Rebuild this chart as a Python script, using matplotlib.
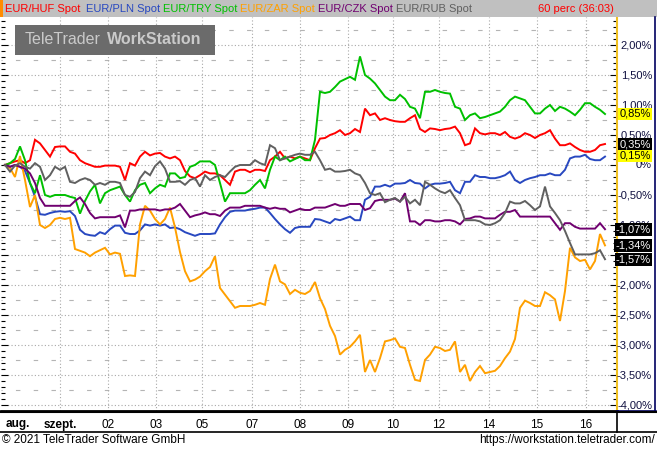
import matplotlib
matplotlib.use("Agg")
import matplotlib.pyplot as plt
from matplotlib.patches import Rectangle
from matplotlib.ticker import MultipleLocator

# hourly-ish samples, percent change since start
huf = [0.0, 0.03, 0.06, 0.08, 0.03, 0.08, 0.42, 0.36, 0.25, 0.14, 0.3, 0.31, 0.31, 0.22, 0.19, 0.08,
       0.03, 0.0, -0.03, -0.03, -0.01, -0.01, -0.01, -0.03, -0.25, 0.03, -0.01, 0.14, 0.22, 0.16, 0.19,
       0.2, 0.14, 0.11, 0.14, 0.08, -0.1, -0.19, -0.22, -0.17, -0.11, -0.14, -0.14, -0.17, -0.25, -0.33,
       -0.11, -0.08, -0.08, -0.12, -0.08, -0.08, -0.1, 0.08, 0.14, 0.22, 0.11, 0.14, 0.11, 0.14, 0.11,
       0.08, 0.28, 0.44, 0.45, 0.5, 0.53, 0.58, 0.5, 0.53, 0.6, 0.55, 0.94, 0.83, 0.86, 0.75, 0.78, 0.75,
       0.73, 0.72, 0.72, 0.78, 0.83, 0.6, 0.55, 0.61, 0.6, 0.58, 0.6, 0.61, 0.64, 0.53, 0.33, 0.36, 0.61,
       0.53, 0.51, 0.53, 0.53, 0.5, 0.55, 0.47, 0.44, 0.47, 0.53, 0.5, 0.45, 0.5, 0.53, 0.58, 0.44, 0.33,
       0.33, 0.36, 0.3, 0.25, 0.22, 0.22, 0.25, 0.33, 0.35]
pln = [0.0, -0.03, 0.0, -0.03, -0.1, -0.3, -0.53, -0.82, -0.83, -0.8, -0.78, -0.77, -0.78, -0.77,
       -0.85, -1.08, -1.15, -1.17, -1.18, -1.12, -1.15, -1.07, -1.01, -1.01, -1.13, -1.15, -1.15, -1.09,
       -0.99, -1.01, -0.99, -1.01, -0.99, -1.05, -1.04, -1.07, -1.12, -1.15, -1.18, -1.15, -1.15, -1.15,
       -1.14, -0.99, -0.87, -0.78, -0.76, -0.76, -0.76, -0.74, -0.73, -0.71, -0.71, -0.8, -0.9, -0.99,
       -1.07, -1.13, -1.05, -1.03, -1.03, -1.03, -0.9, -0.91, -0.94, -0.97, -0.9, -0.92, -0.89, -0.86,
       -0.92, -0.92, -0.58, -0.53, -0.36, -0.36, -0.33, -0.36, -0.31, -0.31, -0.3, -0.25, -0.3, -0.31,
       -0.39, -0.33, -0.31, -0.31, -0.3, -0.28, -0.42, -0.47, -0.28, -0.28, -0.17, -0.2, -0.2, -0.22,
       -0.22, -0.2, -0.17, -0.11, -0.25, -0.3, -0.25, -0.22, -0.2, -0.17, -0.17, -0.14, -0.17, -0.17,
       -0.08, 0.11, 0.14, 0.14, 0.17, 0.1, 0.08, 0.08, 0.14]
tryl = [0.0, 0.03, 0.1, 0.31, 0.08, -0.3, -0.47, -0.17, -0.5, -0.53, -0.5, -0.5, -0.5, -0.53, -0.55,
        -0.81, -0.6, -0.44, -0.33, -0.64, -0.47, -0.42, -0.39, -0.36, -0.5, -0.61, -0.42, -0.33, -0.3,
        -0.47, -0.39, -0.33, -0.36, -0.14, -0.14, -0.22, -0.2, -0.03, 0.0, 0.06, 0.06, 0.06, 0.0, -0.3,
        -0.61, -0.47, -0.47, -0.47, -0.47, -0.42, -0.33, -0.25, -0.39, -0.08, 0.14, 0.08, 0.14, 0.06,
        0.1, 0.14, 0.08, 0.08, 0.42, 1.22, 1.2, 1.22, 1.3, 1.39, 1.43, 1.47, 1.42, 1.81, 1.5, 1.44, 1.36,
        1.25, 1.14, 1.08, 1.08, 1.17, 1.1, 0.97, 0.94, 0.78, 1.22, 1.22, 1.25, 1.22, 1.2, 1.19, 0.97,
        0.94, 0.75, 0.83, 0.86, 0.78, 0.8, 0.83, 0.86, 0.89, 0.97, 1.08, 1.14, 1.11, 1.08, 0.97, 0.86,
        0.86, 0.94, 1.0, 0.9, 0.97, 0.94, 0.89, 0.83, 0.92, 1.03, 1.03, 0.97, 0.92, 0.85]
zar = [0.0, -0.05, -0.2, 0.15, -0.25, -0.7, -0.5, -1.0, -1.05, -1.0, -0.9, -0.88, -0.9, -0.88, -1.4,
       -1.43, -1.46, -1.52, -1.46, -1.42, -1.38, -1.49, -1.46, -1.48, -1.85, -1.84, -1.85, -0.99, -0.68,
       -0.76, -0.9, -0.99, -0.9, -0.71, -1.04, -1.45, -1.77, -1.94, -1.91, -1.86, -1.77, -1.7, -1.52,
       -2.05, -2.16, -2.27, -2.38, -2.35, -2.35, -2.35, -2.33, -2.3, -2.33, -1.9, -1.66, -1.94, -1.99,
       -2.15, -2.08, -2.13, -2.15, -2.1, -1.95, -2.22, -2.4, -2.68, -2.85, -3.16, -3.08, -3.03, -2.94,
       -2.83, -3.45, -3.25, -3.45, -3.22, -2.94, -2.92, -2.89, -3.03, -3.05, -3.33, -3.58, -3.6, -3.25,
       -3.16, -3.03, -3.05, -3.1, -3.08, -2.94, -3.45, -3.33, -3.6, -3.45, -3.35, -3.47, -3.45, -3.43,
       -3.35, -3.22, -3.11, -2.9, -2.38, -2.26, -2.3, -2.35, -2.35, -2.12, -2.17, -2.24, -2.6, -2.1,
       -1.38, -1.54, -1.6, -1.58, -1.74, -1.6, -1.15, -1.34]
czk = [0.0, -0.03, 0.0, -0.03, -0.06, -0.14, -0.3, -0.55, -0.68, -0.68, -0.68, -0.68, -0.68, -0.68,
       -0.6, -0.54, -0.65, -0.8, -0.89, -0.87, -0.87, -0.87, -0.87, -0.84, -1.04, -0.76, -0.76, -0.74,
       -0.74, -0.74, -0.74, -0.76, -0.74, -0.74, -0.71, -0.65, -0.76, -0.87, -0.84, -0.82, -0.79, -0.82,
       -0.82, -0.85, -0.76, -0.71, -0.71, -0.71, -0.68, -0.68, -0.68, -0.68, -0.71, -0.73, -0.71, -0.73,
       -0.73, -0.79, -0.76, -0.73, -0.75, -0.75, -0.71, -0.71, -0.71, -0.68, -0.65, -0.68, -0.68, -0.65,
       -0.65, -0.65, -0.75, -0.72, -0.6, -0.58, -0.58, -0.58, -0.56, -0.61, -0.47, -0.94, -0.94, -1.0,
       -0.92, -0.92, -0.94, -0.94, -0.92, -0.92, -0.94, -0.99, -0.9, -0.89, -0.86, -0.86, -0.89, -0.89,
       -0.89, -0.83, -0.78, -0.78, -0.75, -0.86, -0.86, -0.86, -0.86, -0.86, -0.86, -0.86, -0.97, -1.08,
       -0.97, -0.97, -1.03, -1.06, -1.06, -1.06, -1.06, -0.97, -1.07]
rub = [0.0, -0.11, -0.01, 0.03, -0.03, -0.06, 0.03, -0.03, -0.25, -0.17, -0.03, -0.08, -0.03, -0.28,
       -0.3, -0.25, -0.22, -0.25, -0.33, -0.3, -0.33, -0.28, -0.28, -0.3, -0.5, -0.53, -0.45, -0.22,
       -0.11, -0.17, -0.02, 0.06, -0.06, -0.28, -0.28, -0.27, -0.33, -0.25, -0.22, -0.36, -0.17, -0.25,
       -0.2, -0.17, -0.2, -0.11, -0.03, 0.0, 0.0, 0.0, 0.08, 0.03, 0.0, 0.33, 0.28, 0.08, 0.11, 0.14,
       0.17, 0.19, 0.17, 0.17, 0.22, 0.08, -0.08, -0.06, -0.11, -0.11, -0.1, -0.08, -0.14, -0.17, -0.3,
       -0.47, -0.5, -0.47, -0.62, -0.58, -0.55, -0.61, -0.53, -0.64, -0.58, -0.67, -0.28, -0.33, -0.39,
       -0.44, -0.47, -0.42, -0.55, -0.67, -0.92, -0.92, -0.92, -0.94, -0.99, -1.0, -0.97, -0.92, -0.8,
       -0.61, -0.64, -0.64, -0.6, -0.67, -0.75, -0.69, -0.36, -0.69, -0.8, -0.92, -1.1, -1.3, -1.49,
       -1.49, -1.49, -1.49, -1.47, -1.42, -1.57]

names = ["EUR/HUF Spot", "EUR/PLN Spot", "EUR/TRY Spot", "EUR/ZAR Spot", "EUR/CZK Spot", "EUR/RUB Spot"]
colors = ["#ff0000", "#2848c0", "#00c000", "#ffa000", "#700070", "#606060"]
series = [huf, pln, tryl, zar, czk, rub]

# date labels (positions in sample index)
date_ticks = [11, 20.6, 30.2, 39.4, 49.4, 59, 68.6, 77.6, 86.8, 96.8, 106.4, 116.2]
date_labels = ["szept.", "02", "03", "05", "07", "08", "09", "10", "12", "14", "15", "16"]

# right scale labels (the -1,50% one sits fully under a last-value box)
scale_values = [2.0, 1.5, 1.0, 0.5, 0.0, -0.5, -1.0, -2.0, -2.5, -3.0, -3.5, -4.0]

# last-value boxes: value, text, background, text colour
last_boxes = [(0.85, "0,85%", "#ffff00", "black"), (0.35, "0,35%", "black", "white"),
              (0.15, "0,15%", "#ffff00", "black"), (-1.07, "-1,07%", "black", "white"),
              (-1.34, "-1,34%", "black", "white"), (-1.57, "-1,57%", "black", "white")]

W, H = 657, 449
plt.rcParams['font.family'] = ['Liberation Sans', 'DejaVu Sans']
fig = plt.figure(figsize=(W / 100, H / 100), dpi=100)
fig.patch.set_facecolor("white")


def fx(px):
    return px / W


def fy(py):
    return 1 - py / H


# header bar
fig.patches.append(Rectangle((0, fy(17)), 1, 17 / H, transform=fig.transFigure,
                             facecolor="#c0c0c0", edgecolor="none", zorder=0))
fig.patches.append(Rectangle((0, fy(17)), fx(3), 17 / H, transform=fig.transFigure,
                             facecolor="#ff8c00", edgecolor="none", zorder=1))
name_x = [5, 86, 163, 240, 318, 396]
for nx, n, c in zip(name_x, names, colors):
    fig.text(fx(nx), fy(8.5), n, color=c, fontsize=8, va="center", ha="left")
fig.text(fx(614), fy(8.5), "60 perc (36:03)", color="#ff0000", fontsize=8, va="center", ha="right")

# main axes
left, right, top, bottom = 1, 617, 17, 411
ax = fig.add_axes([fx(left), fy(bottom), fx(right - left), (bottom - top) / H])
x = list(range(len(huf)))
for s, c in zip(series, colors):
    ax.plot(x, s, color=c, lw=1.4, solid_joinstyle="miter")

ax.set_xlim((left - 5) / 5, (right - 5) / 5)
ax.set_ylim((165 - bottom) / 60, (165 - top) / 60)

ax.yaxis.set_major_locator(MultipleLocator(0.5))
ax.yaxis.set_minor_locator(MultipleLocator(0.1))
ax.tick_params(axis="y", which="both", direction="in", left=True, right=True,
               labelleft=False, labelright=False, color="black")
ax.tick_params(axis="y", which="major", length=5, width=0.8)
ax.tick_params(axis="y", which="minor", length=3, width=0.8)

ax.set_xticks(date_ticks)
ax.set_xticklabels(date_labels)
ax.tick_params(axis="x", length=0, pad=6, labelsize=8.5)
for lbl in ax.get_xticklabels():
    if lbl.get_text() == "szept.":
        lbl.set_fontweight("bold")
fig.text(fx(18), fy(423.5), "aug.", ha="center", va="center", fontsize=8.5, fontweight="bold")

ax.grid(axis="x", color="#a8a8a8", linestyle=(0, (1, 2)), lw=0.8)
ax.grid(axis="y", which="major", color="#a8a8a8", linestyle=(0, (1, 2)), lw=0.8)
for v in [2.25, 1.75, 1.25, 0.75, 0.25, -0.25, -0.75, -1.25, -1.75, -2.25, -2.75, -3.25, -3.75]:
    ax.axhline(v, color="#b4b4b4", linestyle=(3, (4, 12)), lw=0.8, zorder=0)
ax.set_axisbelow(True)

for sp in ["top", "left"]:
    ax.spines[sp].set_visible(False)
ax.spines["right"].set_color("#f0c020")
ax.spines["right"].set_linewidth(1.5)
ax.spines["bottom"].set_linewidth(2)

# right value scale
for v in scale_values:
    t = "0%" if v == 0 else ("%.2f%%" % v).replace(".", ",")
    fig.text(fx(652), fy(165 - v * 60), t, fontsize=8, color="#101040", ha="right", va="center")
for v, t, bg, tc in last_boxes:
    fig.text(fx(651), fy(165 - v * 60), t, fontsize=8, color=tc, ha="right", va="center",
             bbox=dict(boxstyle="square,pad=0.12", facecolor=bg, edgecolor="none"))

# watermark
fig.patches.append(Rectangle((fx(15), fy(55)), fx(200), 30 / H, transform=fig.transFigure,
                             facecolor="#6b6b6b", edgecolor="none", zorder=5))
fig.text(fx(25), fy(40), "TeleTrader", color="#cacaca", fontsize=11.5, va="center", zorder=6)
fig.text(fx(107), fy(40), "WorkStation", color="#cacaca", fontsize=11.5, fontweight="bold",
         va="center", zorder=6)

# frame lines
fig.add_artist(plt.Line2D([fx(655), fx(655)], [fy(17), fy(411)], color="#000060", lw=1.2))
fig.add_artist(plt.Line2D([fx(617), fx(656)], [fy(411), fy(411)], color="#000060", lw=1.2))
fig.add_artist(plt.Line2D([0, 1], [fy(432), fy(432)], color="black", lw=1.2))
fig.add_artist(plt.Line2D([fx(617), fx(617)], [fy(412), fy(432)], color="black", lw=1.2))
fig.add_artist(plt.Line2D([0, 1], [fy(412), fy(412)], color="black", lw=1.5))

# footer
fig.text(fx(2), fy(440), "\u00a9 2021 TeleTrader Software GmbH", fontsize=8.5, va="center")
fig.text(fx(655), fy(440), "https://workstation.teletrader.com/", fontsize=8.5, va="center", ha="right")

fig.savefig("out.png", dpi=100)
